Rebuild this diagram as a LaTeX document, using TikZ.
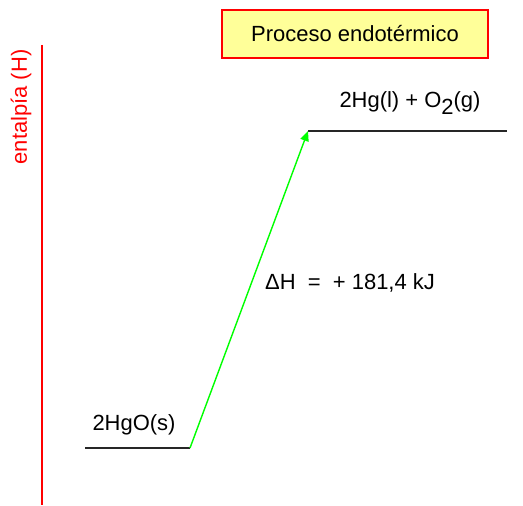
\documentclass[tikz,border=0pt]{standalone}
\usepackage{fontspec}
\setmainfont{Liberation Sans}
\usetikzlibrary{arrows.meta, positioning}
\definecolor{boxyellow}{RGB}{255,255,153}
\definecolor{arrowgreen}{RGB}{0,255,0}

\begin{document}
\begin{tikzpicture}[
    x=0.02cm, y=-0.02cm,
    every node/.style={font=\fontsize{12.5}{15}\selectfont},
    titlebox/.style={rectangle, draw=red, fill=boxyellow, line width=0.9pt, minimum width=5.32cm, minimum height=0.96cm, align=center},
    level/.style={draw=black!85, line width=1pt},
    axis/.style={draw=red, line width=0.9pt},
    arrow/.style={-{Triangle[length=2mm, width=1.7mm]}, draw=arrowgreen, fill=arrowgreen, line width=0.8pt}
]
\useasboundingbox (0,0) rectangle (523,506);

% Enthalpy axis
\coordinate (axistop) at (42,45);
\coordinate (axisbot) at (42,505);
\draw[axis] (axistop) -- (axisbot);
\node[rotate=90, text=red] (axislabel) at (21,107) {entalpía (H)};

% Title
\node[titlebox] (title) at (355,34) {Proceso endotérmico};

% Energy levels
\coordinate (lowL) at (85,448);
\coordinate (lowR) at (190,448);
\coordinate (highL) at (308,131);
\coordinate (highR) at (507,131);
\draw[level] (lowL) -- (lowR);
\draw[level] (highL) -- (highR);
\node (reactant) at (134,425) {2HgO(s)};
\node (product) at (410,103) {2Hg(l) + O\raisebox{-0.6ex}{2}(g)};

% Reaction arrow
\draw[arrow] (lowR) -- (highL);
\node (deltaH) at (350,283) {ΔH~~=~~+ 181,4 kJ};

\end{tikzpicture}
\end{document}
